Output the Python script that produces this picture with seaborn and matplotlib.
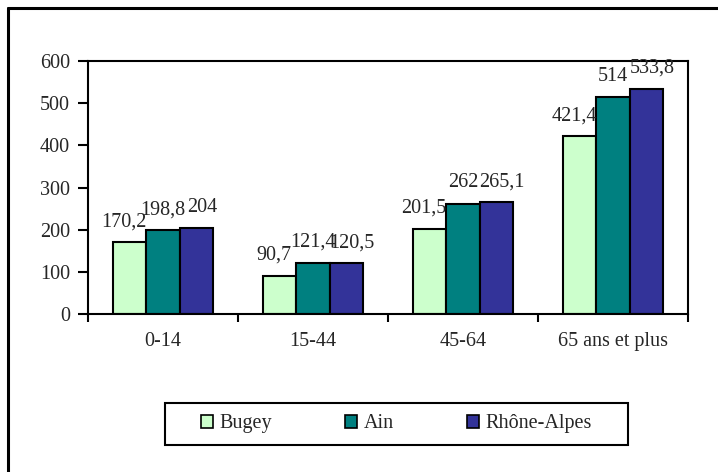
import pandas as pd
import seaborn as sns
import matplotlib.pyplot as plt
from matplotlib.lines import Line2D
from matplotlib.patches import Rectangle

# Data
age_groups = ["0-14", "15-44", "45-64", "65 ans et plus"]
bugey = [170.2, 90.7, 201.5, 421.4]
ain = [198.8, 121.4, 262, 514]
rhone_alpes = [204, 120.5, 265.1, 533.8]
series_names = ["Bugey", "Ain", "Rhône-Alpes"]
colors = ["#CCFFCC", "#008080", "#333399"]

FS = 14.5


def fmt_fr(v):
    # French decimal comma, no trailing ",0"
    if float(v).is_integer():
        return str(int(v))
    return str(v).replace(".", ",")


def build_frame() -> pd.DataFrame:
    rows = []
    for name, vals in zip(series_names, [bugey, ain, rhone_alpes]):
        for grp, v in zip(age_groups, vals):
            rows.append({"groupe": grp, "serie": name, "valeur": v})
    return pd.DataFrame(rows)


def main() -> None:
    sns.set_theme(style="ticks")
    plt.rcParams["font.family"] = ["Liberation Serif", "DejaVu Serif"]
    plt.rcParams["font.size"] = FS

    df = build_frame()

    fig = plt.figure(figsize=(7.18, 4.72), dpi=100)
    ax = fig.add_axes([0.1226, 0.3347, 0.8356, 0.5361])

    sns.barplot(data=df, x="groupe", y="valeur", hue="serie",
                order=age_groups, hue_order=series_names,
                palette=colors, saturation=1, width=0.67,
                edgecolor="black", linewidth=1.5, ax=ax, legend=False)

    # labels above bars, nudged sideways a little like the original
    shifts = [-4, 0, 4]
    for cont, vals, dx in zip(ax.containers, [bugey, ain, rhone_alpes], shifts):
        anns = ax.bar_label(cont, labels=[fmt_fr(v) for v in vals],
                            padding=8, fontsize=FS)
        for a in anns:
            a.xyann = (dx, 8)

    ax.set_ylim(0, 600)
    ax.set_yticks(range(0, 601, 100))
    ax.set_xlim(-0.5, len(age_groups) - 0.5)
    ax.set_xlabel("")
    ax.set_ylabel("")

    # category boundaries get the tick marks, labels sit in between
    ax.set_xticks([i - 0.5 for i in range(len(age_groups) + 1)], minor=True)
    ax.tick_params(axis="x", which="major", length=0, pad=13, labelsize=FS)
    ax.tick_params(axis="x", which="minor", length=6, width=1.5,
                   direction="out", color="black")
    ax.tick_params(axis="y", length=7, width=1.5, direction="out",
                   color="black", pad=6, labelsize=FS)

    for sp in ax.spines.values():
        sp.set_visible(True)
        sp.set_color("black")
        sp.set_linewidth(1.5)

    handles = [Rectangle((0, 0), 1, 1, facecolor=c, edgecolor="black",
                         linewidth=1.2) for c in colors]
    fig.legend(handles, series_names, loc="center",
               bbox_to_anchor=(0.552, 0.1017), ncol=3, frameon=False,
               fontsize=FS, handlelength=0.6, handleheight=0.6,
               handletextpad=0.35, columnspacing=3.6)
    # legend box drawn separately so the padding can match
    fig.add_artist(Rectangle((165 / 718, 1 - 445 / 472), 463 / 718, 42 / 472,
                             transform=fig.transFigure, fill=False,
                             edgecolor="black", linewidth=1.5))

    # outer chart frame (only the top and left edges are in view)
    fig.add_artist(Line2D([8 / 718, 8 / 718], [0, 1 - 8 / 472],
                          color="black", linewidth=2.2))
    fig.add_artist(Line2D([8 / 718, 1], [1 - 8 / 472, 1 - 8 / 472],
                          color="black", linewidth=2.2))

    fig.savefig("out.png", dpi=100)
    plt.close(fig)


if __name__ == "__main__":
    main()
